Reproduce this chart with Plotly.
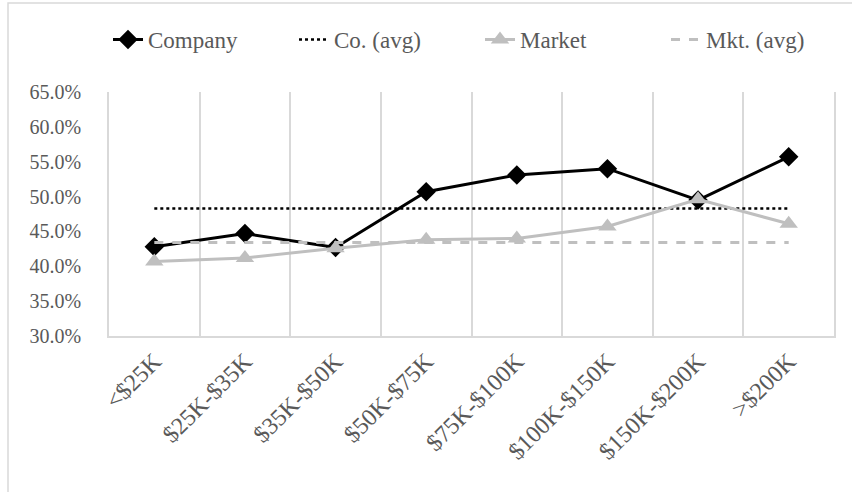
import plotly.graph_objects as go

# Income brackets and share values (fractions)
categories = ["<$25K", "$25K-$35K", "$35K-$50K", "$50K-$75K",
              "$75K-$100K", "$100K-$150K", "$150K-$200K", ">$200K"]
company = [0.428, 0.447, 0.427, 0.507, 0.531, 0.540, 0.495, 0.557]
market = [0.407, 0.412, 0.426, 0.438, 0.440, 0.457, 0.496, 0.461]
company_avg = 0.483
market_avg = 0.434

FONT = "Liberation Serif"
TEXT = "#595959"
GRID = "#D9D9D9"
GRAY = "#BFBFBF"

fig = go.Figure()
fig.add_trace(go.Scatter(
    x=categories, y=company, name="Company", mode="lines+markers",
    line=dict(color="black", width=3),
    marker=dict(symbol="diamond", size=15, color="black"),
))
fig.add_trace(go.Scatter(
    x=categories, y=[company_avg] * len(categories), name="Co. (avg)", mode="lines",
    line=dict(color="black", width=2.5, dash="dot"),
))
fig.add_trace(go.Scatter(
    x=categories, y=market, name="Market", mode="lines+markers",
    line=dict(color=GRAY, width=3),
    marker=dict(symbol="triangle-up", size=16, color=GRAY),
))
fig.add_trace(go.Scatter(
    x=categories, y=[market_avg] * len(categories), name="Mkt. (avg)", mode="lines",
    line=dict(color=GRAY, width=3, dash="dash"),
))

# Light frame around the whole chart
fig.add_shape(type="rect", xref="paper", yref="paper",
              x0=-0.1393, x1=1.05, y0=-0.7, y1=1.3648,
              line=dict(color=GRID, width=1.5), fillcolor="rgba(0,0,0,0)", layer="below")

fig.update_layout(
    width=852, height=492,
    margin=dict(l=109, r=18, t=92, b=156),
    paper_bgcolor="white", plot_bgcolor="white",
    font=dict(family=FONT, size=20, color=TEXT),
    showlegend=True,
    legend=dict(orientation="h", x=-0.001, xanchor="left",
                y=1.215, yanchor="middle",
                bgcolor="rgba(0,0,0,0)",
                font=dict(family=FONT, size=23, color=TEXT),
                entrywidth=141, entrywidthmode="pixels",
                tracegroupgap=0),
    xaxis=dict(
        type="category", range=[-0.5, 7.5], tickson="boundaries",
        showgrid=True, gridcolor=GRID, gridwidth=1.5,
        showline=True, linecolor=GRID, linewidth=1.5,
        ticks="", tickangle=-45,
        tickfont=dict(family=FONT, size=24, color=TEXT),
        fixedrange=True,
    ),
    yaxis=dict(
        range=[0.30, 0.65], dtick=0.05, tickformat=".1%",
        showgrid=False, zeroline=False,
        showline=True, mirror=True, linecolor=GRID, linewidth=1.5,
        ticks="", ticklabelstandoff=22,
        tickfont=dict(family=FONT, size=20, color=TEXT),
        fixedrange=True,
    ),
)

fig.write_html("out.html")
